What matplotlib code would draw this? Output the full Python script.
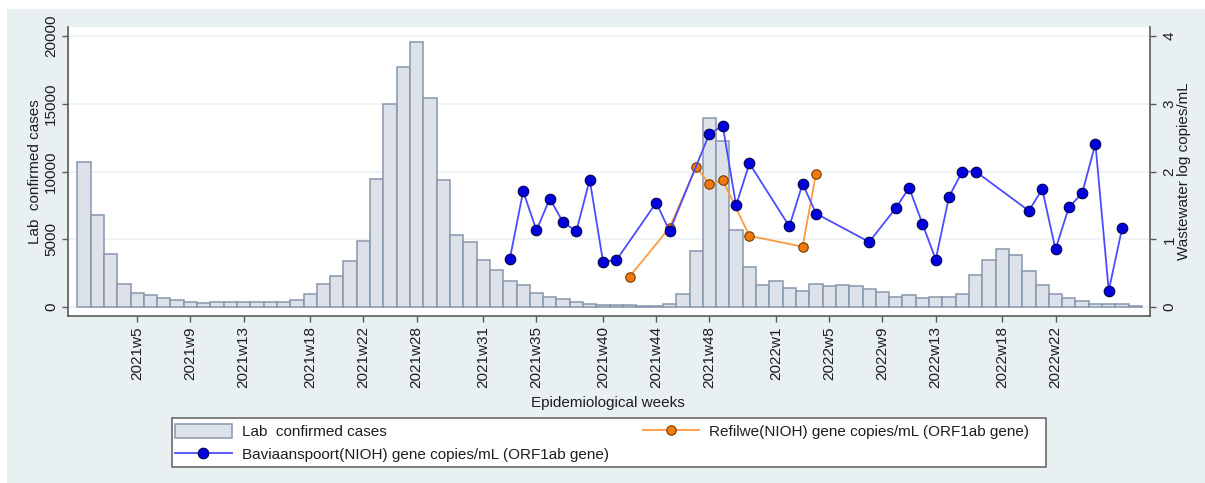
import matplotlib
matplotlib.use("Agg")
import matplotlib.pyplot as plt
from matplotlib.patches import Rectangle, Patch
from matplotlib.lines import Line2D

plt.rcParams['font.family'] = ['Liberation Sans', 'DejaVu Sans']

# weekly lab confirmed cases, one bar per week starting 2021w1
cases = [10700, 6770, 3900, 1720, 1060, 860, 640, 520, 400, 320,
         370, 370, 370, 370, 400, 400, 520, 960, 1720, 2290,
         3370, 4900, 9480, 14950, 17700, 19530, 15400, 9380, 5340, 4780,
         3470, 2730, 1950, 1630, 1060, 740, 570, 390, 220, 150,
         120, 120, 100, 100, 200, 960, 4140, 13970, 12220, 5670,
         2960, 1630, 1950, 1400, 1210, 1670, 1550, 1630, 1550, 1310,
         1080, 740, 860, 640, 760, 760, 990, 2360, 3500, 4260,
         3820, 2660, 1630, 990, 660, 420, 220, 200, 220, 100]

tick_pos = [4, 8, 12, 17, 21, 25, 30, 34, 39, 43, 47, 52, 56, 60, 64, 69, 73]
tick_lab = ['2021w5', '2021w9', '2021w13', '2021w18', '2021w22', '2021w28',
            '2021w31', '2021w35', '2021w40', '2021w44', '2021w48', '2022w1',
            '2022w5', '2022w9', '2022w13', '2022w18', '2022w22']

# Baviaanspoort (NIOH) wastewater, log copies/mL
bav_wk = [32, 33, 34, 35, 36, 37, 38, 39, 40, 43, 44, 47, 48, 49, 50, 53, 54,
          55, 59, 61, 62, 63, 64, 65, 66, 67, 71, 72, 73, 74, 75, 76, 77, 78]
bav_val = [0.71, 1.71, 1.13, 1.60, 1.25, 1.12, 1.88, 0.67, 0.69, 1.54, 1.12,
           2.56, 2.67, 1.50, 2.12, 1.19, 1.82, 1.38, 0.96, 1.46, 1.76, 1.23,
           0.70, 1.63, 2.00, 2.00, 1.42, 1.74, 0.85, 1.47, 1.68, 2.41, 0.24, 1.16]

# Refilwe (NIOH) wastewater, log copies/mL
ref_wk = [41, 44, 46, 47, 48, 50, 54, 55]
ref_val = [0.45, 1.17, 2.07, 1.81, 1.87, 1.05, 0.89, 1.97]

W, H = 1205, 483
bg = '#e8f0f2'
txt = '#1e1e1e'
axcol = '#5a5a5a'
fs = 11

bar_fc, bar_ec = '#dde2ea', '#8797ab'
bav_style = dict(color='#4c4cff', linewidth=1.3, marker='o', markersize=7.6,
                 markerfacecolor='#0000dd', markeredgecolor='#000050',
                 markeredgewidth=0.8)
ref_style = dict(color='#ff9a40', linewidth=1.3, marker='o', markersize=6.8,
                 markerfacecolor='#f07a10', markeredgecolor='#7a3a00',
                 markeredgewidth=0.8)

fig = plt.figure(figsize=(W / 100, H / 100), dpi=100)
fig.patches.append(Rectangle((7 / W, 0), 1, 1 - 9 / H, transform=fig.transFigure,
                             facecolor=bg, edgecolor='none', zorder=-10))

ax = fig.add_axes([68 / W, 1 - 316 / H, (1150 - 68) / W, (316 - 27) / H])
ax.set_facecolor('white')

# bars
ax.bar(range(len(cases)), cases, width=1.0, color=bar_fc,
       edgecolor=bar_ec, linewidth=1.1, zorder=2)

ax.set_xlim(-1.2, 80.1)
ax.set_ylim(-664, 20664)
ax.set_yticks([0, 5000, 10000, 15000, 20000])
ax.set_yticklabels(['0', '5000', '10000', '15000', '20000'], rotation=90, va='center')
ax.yaxis.grid(True, color='#edf3f4', linewidth=1.3, zorder=0)
ax.set_axisbelow(True)
ax.set_xticks(tick_pos)
ax.set_xticklabels(tick_lab, rotation=90)

for s in ['top', 'right']:
    ax.spines[s].set_visible(False)
for s in ['left', 'bottom']:
    ax.spines[s].set_color(axcol)
    ax.spines[s].set_linewidth(1.2)
ax.tick_params(axis='both', colors=axcol, labelcolor=txt, labelsize=fs,
               length=4, width=1.0)
ax.tick_params(axis='x', pad=3.5)
ax.tick_params(axis='y', pad=3)

# wastewater lines on right axis
ax2 = ax.twinx()
ax2.set_ylim(-664 / 5000, 20664 / 5000)
ax2.set_xlim(-1.2, 80.1)
ax2.plot(ref_wk, ref_val, zorder=3, **ref_style)
ax2.plot(bav_wk, bav_val, zorder=4, **bav_style)
ax2.set_yticks([0, 1, 2, 3, 4])
ax2.set_yticklabels(['0', '1', '2', '3', '4'], rotation=90, va='center')
for s in ['top', 'left', 'bottom']:
    ax2.spines[s].set_visible(False)
ax2.spines['right'].set_color(axcol)
ax2.spines['right'].set_linewidth(1.2)
ax2.tick_params(axis='y', colors=axcol, labelcolor=txt, labelsize=fs,
                length=4, width=1.0, pad=5)

# axis titles
fig.text(35 / W, 1 - 171.5 / H, 'Lab  confirmed cases', rotation=90,
         ha='center', va='center', fontsize=fs, color=txt)
fig.text(1184 / W, 1 - 171.5 / H, 'Wastewater log copies/mL', rotation=90,
         ha='center', va='center', fontsize=fs, color=txt)
fig.text(608 / W, 1 - 402.7 / H, 'Epidemiological weeks',
         ha='center', va='center', fontsize=fs, color=txt)

# legend box
fig.patches.append(Rectangle((171.7 / W, 1 - 466.7 / H), (1046 - 171.7) / W, 49 / H,
                             transform=fig.transFigure, facecolor='white',
                             edgecolor='#6a6a6a', linewidth=1.2, zorder=1))
handles = [
    Patch(facecolor=bar_fc, edgecolor=bar_ec, linewidth=1.1),
    Line2D([], [], **bav_style),
    Line2D([], [], **ref_style),
]
labels = ['Lab  confirmed cases',
          'Baviaanspoort(NIOH) gene copies/mL (ORF1ab gene)',
          'Refilwe(NIOH) gene copies/mL (ORF1ab gene)']
leg = fig.legend(handles, labels, ncol=2, loc='upper left',
                 bbox_to_anchor=(172 / W, 1 - 421 / H), frameon=False,
                 fontsize=fs, handlelength=3.7, handleheight=1.0,
                 handletextpad=0.65, columnspacing=2.25, labelspacing=0.5,
                 borderpad=0.2, borderaxespad=0)
for t in leg.get_texts():
    t.set_color(txt)

fig.savefig('out.png', dpi=100, facecolor='white')
